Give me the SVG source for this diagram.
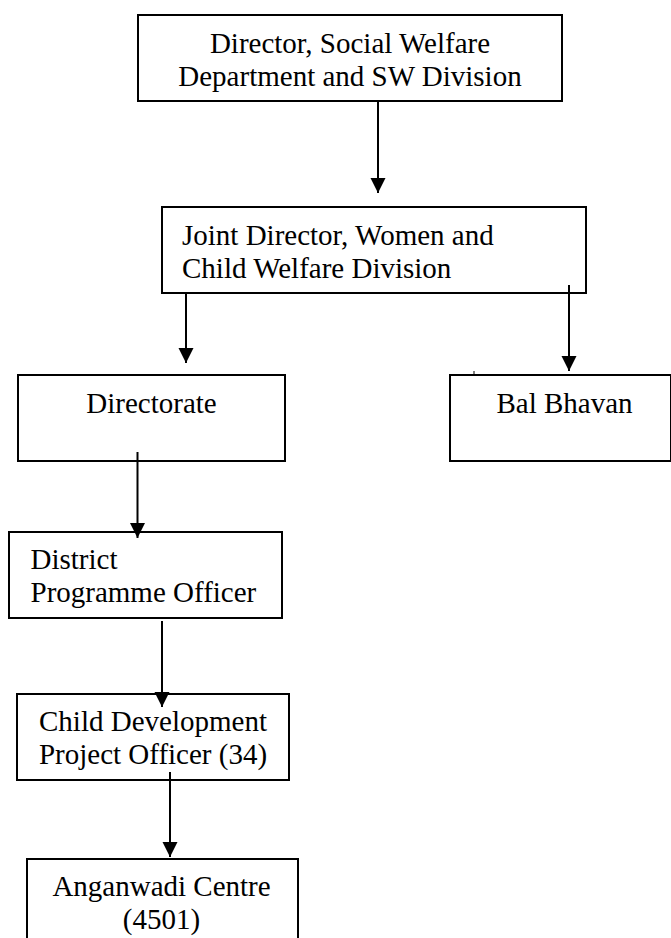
<svg xmlns="http://www.w3.org/2000/svg" width="671" height="938" viewBox="0 0 671 938">
<style>
  .box { fill: #ffffff; stroke: #000000; stroke-width: 2; }
  .lbl { font-family: "Liberation Serif", "Times New Roman", serif; font-size: 29px; fill: #000000; }
  .mid { text-anchor: middle; }
  .conn { stroke: #000000; stroke-width: 2; fill: none; }
</style>
<defs>
  <marker id="arrow" markerUnits="userSpaceOnUse" markerWidth="16" markerHeight="16" refX="15" refY="8" orient="auto">
    <path d="M0,0.5 L15,8 L0,15.5 z" fill="#000000"/>
  </marker>
</defs>
<rect width="671" height="938" fill="#ffffff"/>

<g id="node-director">
  <rect class="box" x="138" y="15" width="424" height="86"/>
  <text class="lbl mid" x="350" y="53">Director, Social Welfare</text>
  <text class="lbl mid" x="350" y="86">Department and SW Division</text>
</g>

<g id="node-joint-director">
  <rect class="box" x="162" y="207" width="424" height="86"/>
  <text class="lbl" x="182" y="245">Joint Director, Women and</text>
  <text class="lbl" x="182" y="278">Child Welfare Division</text>
</g>

<g id="node-directorate">
  <rect class="box" x="18" y="375" width="267" height="86"/>
  <text class="lbl mid" x="151.5" y="413">Directorate</text>
</g>

<g id="node-bal-bhavan">
  <rect class="box" x="450" y="375" width="221" height="86"/>
  <line x1="474" y1="371" x2="474" y2="375" stroke="#000000" stroke-width="1"/>
  <text class="lbl mid" x="564.5" y="413">Bal Bhavan</text>
</g>

<g id="node-dpo">
  <rect class="box" x="9" y="532" width="273" height="86"/>
  <text class="lbl" x="30.5" y="569">District</text>
  <text class="lbl" x="30.5" y="602">Programme Officer</text>
</g>

<g id="node-cdpo">
  <rect class="box" x="17" y="694" width="272" height="86"/>
  <text class="lbl mid" x="153" y="731">Child Development</text>
  <text class="lbl mid" x="153" y="764">Project Officer (34)</text>
</g>

<g id="node-anganwadi">
  <rect class="box" x="27" y="859" width="271" height="100"/>
  <text class="lbl mid" x="161.5" y="896">Anganwadi Centre</text>
  <text class="lbl mid" x="161.5" y="929">(4501)</text>
</g>

<g id="connectors">
  <line class="conn" x1="378" y1="101" x2="378" y2="193" marker-end="url(#arrow)"/>
  <line class="conn" x1="186" y1="293" x2="186" y2="363" marker-end="url(#arrow)"/>
  <line class="conn" x1="569" y1="285" x2="569" y2="371" marker-end="url(#arrow)"/>
  <line class="conn" x1="137.5" y1="452" x2="137.5" y2="538" marker-end="url(#arrow)"/>
  <line class="conn" x1="162" y1="621" x2="162" y2="707" marker-end="url(#arrow)"/>
  <line class="conn" x1="170" y1="772" x2="170" y2="857" marker-end="url(#arrow)"/>
</g>
</svg>
